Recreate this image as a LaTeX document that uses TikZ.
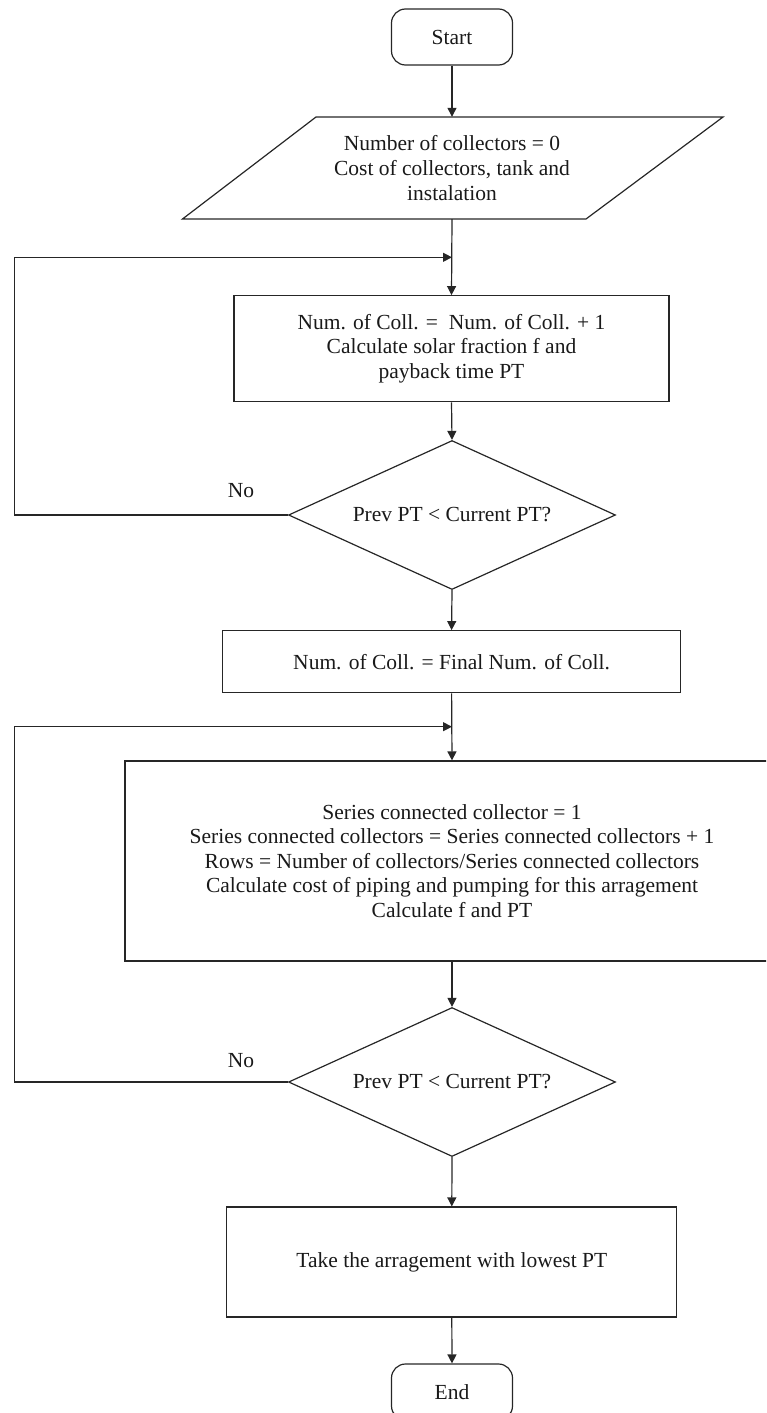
\documentclass[tikz,border=0pt]{standalone}
\usepackage{fontspec}
\setmainfont{Liberation Serif}
\usetikzlibrary{shapes.geometric,arrows.meta}
\begin{document}
\begin{tikzpicture}[x=1pt,y=-1pt,
  every node/.style={font=\fontsize{21.5}{24.6}\selectfont, text=black!90},
  ln/.style={draw=black!85, line width=1.2pt},
  arr/.style={ln, -{Triangle[length=9pt,width=9pt]}},
  term/.style={ln, rounded corners=14pt, minimum width=121pt, minimum height=56pt, inner sep=0pt},
  procbox/.style={ln, inner sep=0pt, align=center},
  decide/.style={ln, diamond, inner sep=0pt, minimum width=327pt, minimum height=149pt, aspect=2.2},
  lbl/.style={inner sep=0pt}
]
\useasboundingbox (0,0) rectangle (766,1413);
\clip (0,0) rectangle (766,1413);

% nodes
\node[term] (start) at (452,37) {Start};
\draw[ln, line join=miter] (316,117) -- (723,117) -- (586,219) -- (182.5,219) -- cycle;
\node[inner sep=0pt, minimum height=102pt, align=center] (inp) at (452,168)
  {Number of collectors = 0\\Cost of collectors, tank and\\instalation};
\node[procbox, minimum width=435pt, minimum height=106pt] (calc) at (451.5,348.7)
  {Num. of Coll. =\ \ Num. of Coll. + 1\\Calculate solar fraction f and\\payback time PT};
\node[decide] (dia1) at (452,515) {Prev PT < Current PT?};
\node[procbox, minimum width=458pt, minimum height=62pt] (fin) at (451.6,661.7)
  {Num. of Coll. = Final Num. of Coll.};
\node[procbox, minimum width=654pt, minimum height=200pt] (ser) at (452,861)
  {Series connected collector = 1\\Series connected collectors = Series connected collectors + 1\\Rows = Number of collectors/Series connected collectors\\Calculate cost of piping and pumping for this arragement\\Calculate f and PT};
\node[decide] (dia2) at (452,1082) {Prev PT < Current PT?};
\node[procbox, minimum width=450pt, minimum height=110pt] (take) at (451.8,1262)
  {Take the arragement with lowest PT};
\node[term] (end) at (452,1392) {End};

\node[lbl] (no1) at (241,491) {No};
\node[lbl] (no2) at (241,1061) {No};

% coordinates
\coordinate (j1) at (452,257.3);
\coordinate (j2) at (452,726.7);
\coordinate (lx) at (14.7,0);

% connectors
\draw[arr] (start.south) -- (inp.north);
\draw[arr] (inp.south) -- (calc.north);
\draw[arr] (dia1.west) -- (dia1.west -| lx) |- (j1);
\draw[arr] (calc.south) -- (dia1.north);
\draw[arr] (dia1.south) -- (fin.north);
\draw[arr] (fin.south) -- (ser.north);
\draw[arr] (dia2.west) -- (dia2.west -| lx) |- (j2);
\draw[arr] (ser.south) -- (dia2.north);
\draw[arr] (dia2.south) -- (take.north);
\draw[arr] (take.south) -- (end.north);
\end{tikzpicture}
\end{document}
